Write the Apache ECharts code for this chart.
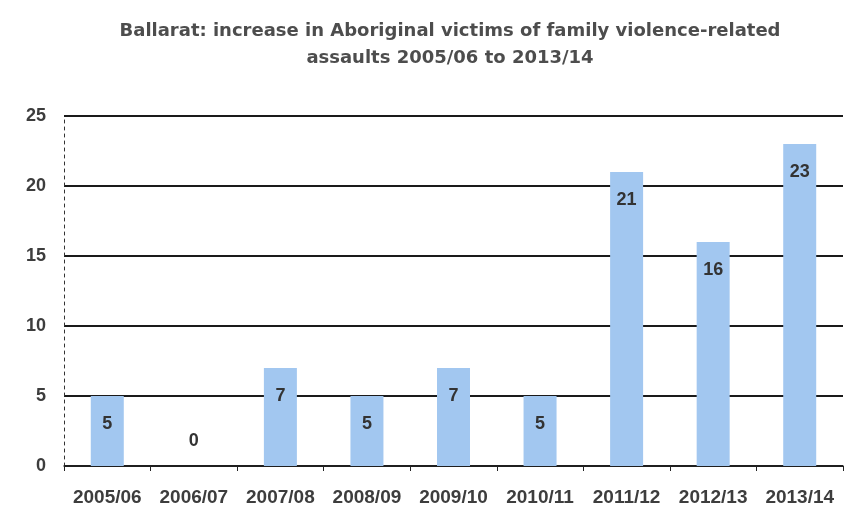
<!DOCTYPE html>
<html>
<head>
<meta charset="utf-8">
<script src="https://cdn.jsdelivr.net/npm/echarts@6/dist/echarts.min.js"></script>
<style>
  html, body { margin: 0; padding: 0; background: #fff; }
  #chart { width: 856px; height: 523px; }
</style>
</head>
<body>
<div id="chart"></div>
<script>
// data
const years = ['2005/06', '2006/07', '2007/08', '2008/09', '2009/10', '2010/11', '2011/12', '2012/13', '2013/14'];
const victims = [5, 0, 7, 5, 7, 5, 21, 16, 23];

document.addEventListener('DOMContentLoaded', function () {
    const myChart = echarts.init(document.getElementById('chart'));
    window.addEventListener('resize', () => myChart.resize());

    const textColor = '#3d3d3d';

    const option = {
        animation: false,
        title: {
            text: 'Ballarat: increase in Aboriginal victims of family violence-related\nassaults 2005/06 to 2013/14',
            left: 445,
            textAlign: 'center',
            top: 13,
            textStyle: {
                color: '#4d4d4d',
                fontSize: 18,
                fontWeight: 'bold',
                fontFamily: 'DejaVu Sans',
                lineHeight: 27
            }
        },
        grid: { left: 64, right: 13, top: 116, bottom: 57 },
        xAxis: {
            type: 'category',
            data: years,
            axisLine: { lineStyle: { color: '#222', width: 1.5 } },
            axisTick: { show: true, length: 5, lineStyle: { color: '#222' } },
            axisLabel: {
                interval: 0,
                hideOverlap: false,
                color: textColor,
                fontSize: 19,
                fontWeight: 'bold',
                fontFamily: 'Liberation Sans',
                margin: 22
            }
        },
        yAxis: {
            type: 'value',
            min: 0,
            max: 25,
            interval: 5,
            axisLine: { show: true, lineStyle: { color: '#333', type: [3, 4], width: 1 } },
            axisTick: { show: false },
            axisLabel: {
                color: textColor,
                fontSize: 18,
                fontWeight: 'bold',
                fontFamily: 'Liberation Sans',
                margin: 18
            },
            splitLine: { lineStyle: { color: '#1a1a1a', width: 2 } }
        },
        series: [{
            type: 'bar',
            barWidth: 33,
            itemStyle: { color: '#a2c7f0' },
            label: {
                show: true,
                position: 'insideTop',
                distance: 19,
                color: '#333',
                fontSize: 18,
                fontWeight: 'bold',
                fontFamily: 'Liberation Sans'
            },
            data: victims.map(v => v === 0
                ? { value: v, label: { position: 'top', distance: 16 } }
                : v)
        }]
    };

    myChart.setOption(option);
});
</script>
</body>
</html>
